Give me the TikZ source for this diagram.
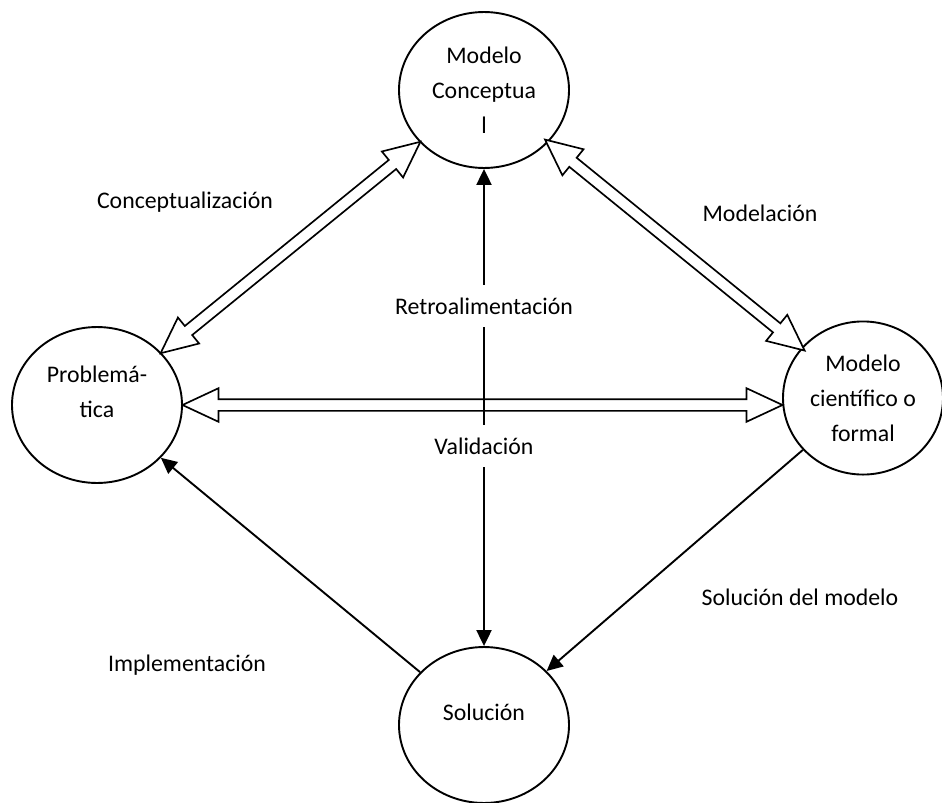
\documentclass[tikz,border=0pt]{standalone}
\usepackage{fontspec}
\setmainfont{Carlito}
\usetikzlibrary{arrows.meta,shapes.geometric,shapes.arrows}

\tikzset{
  elip/.style={draw, ellipse, line width=0.8pt, minimum width=71.4pt, minimum height=65.5pt, inner sep=0pt, align=center},
  dblarrow/.style={draw, fill=white, double arrow, line width=0.7pt, inner xsep=0pt, inner ysep=2.1pt,
    double arrow head extend=4.6pt, double arrow tip angle=50},
  flecha/.style={line width=0.8pt, -{Triangle[length=6.7pt,width=6.3pt]}},
  etiq/.style={fill=white, inner xsep=2pt, inner ysep=5.5pt}
}

\begin{document}
\begin{tikzpicture}[x=0.42pt,y=-0.42pt,font=\fontsize{10}{14.7}\selectfont]
		\useasboundingbox (0,0) rectangle (942,802);

		\node[elip] (mc) at (484,90) {Modelo\\Conceptua\\l};
		\node[elip] (pb) at (97,405) {};
		\node[align=center] (pbt) at ([yshift=5.5pt]pb) {Problemá-\\tica};
		\node[elip, minimum width=67.2pt, minimum height=64.3pt] (mf) at (863,398) {Modelo\\científico o\\formal};
		\node[elip] (sol) at (484,725) {};
		\node (solt) at ([yshift=5.5pt]sol) {Solución};

		% flechas dobles
		\path (mc) -- (pb) node[midway, sloped, dblarrow, minimum height=140.7pt] (conc) {};
		\path (mc) -- (mf) node[midway, sloped, dblarrow, minimum height=140.5pt] (mode) {};
		\path (pb.east) -- (pb.east -| mf.west) node[midway, dblarrow, minimum height=252pt] (vali) {};

		\draw[line width=0.8pt, {Triangle[length=6.7pt,width=6.3pt]}-{Triangle[length=6.7pt,width=6.3pt]}] (mc) -- (sol);
		\draw[flecha] (sol) -- (pb);
		\draw[flecha] (mf) -- (sol);

		\node (lconc) at (185,202) {Conceptualización};
		\node (lmode) at (760,213) {Modelación};
		\node[etiq] (lretro) at (484,306) {Retroalimentación};
		\node[etiq] (lvali) at (484,446) {Validación};
		\node (limpl) at (187,665) {Implementación};
		\node (lsolm) at (800,597) {Solución del modelo};
	\end{tikzpicture}
\end{document}
